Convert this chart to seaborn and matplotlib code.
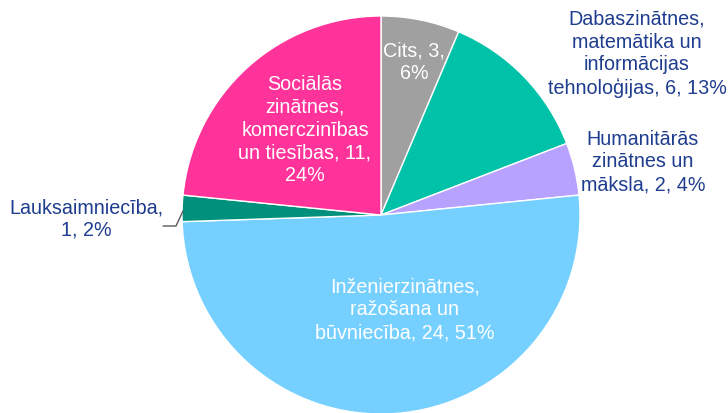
import matplotlib
matplotlib.use("Agg")
import matplotlib.pyplot as plt
import seaborn as sns

categories = [
    "Cits",
    "Dabaszinātnes,\nmatemātika un\ninformācijas\ntehnoloģijas",
    "Humanitārās\nzinātnes un\nmāksla",
    "Inženierzinātnes,\nražošana un\nbūvniecība",
    "Lauksaimniecība",
    "Sociālās\nzinātnes,\nkomerczinības\nun tiesības",
]
values = [3, 6, 2, 24, 1, 11]
percents = [6, 13, 4, 51, 2, 24]
label_texts = [
    "Cits, 3,\n6%",
    "Dabaszinātnes,\nmatemātika un\ninformācijas\ntehnoloģijas, 6, 13%",
    "Humanitārās\nzinātnes un\nmāksla, 2, 4%",
    "Inženierzinātnes,\nražošana un\nbūvniecība, 24, 51%",
    "Lauksaimniecība,\n1, 2%",
    "Sociālās\nzinātnes,\nkomerczinības\nun tiesības, 11,\n24%",
]
colors = ["#A0A0A0", "#00C2A8", "#B8A2FF", "#75D0FF", "#00917C", "#FF3399"]
inside = [True, False, False, True, False, True]
# label centre positions in pixel space of the 728x414 image
label_px = [(414, 62), (637, 54), (643, 162), (405, 310), (86, 219), (305, 130)]

sns.set_theme(style="white")
plt.rcParams["font.family"] = ["Liberation Sans", "DejaVu Sans"]

W, H = 728, 414
cx, cy, R = 381, 216, 199
fig = plt.figure(figsize=(W / 100, H / 100), dpi=100)
fig.patch.set_facecolor("white")
ax = fig.add_axes([(cx - R) / W, (H - cy - R) / H, 2 * R / W, 2 * R / H])
ax.pie(values, colors=colors, startangle=90, counterclock=False, radius=1,
       wedgeprops=dict(edgecolor="white", linewidth=1.0))
ax.set_xlim(-1, 1)
ax.set_ylim(-1, 1)
ax.set_axis_off()

def to_data(px, py):
    return (px - cx) / R, (cy - py) / R

for txt, ins, (px, py) in zip(label_texts, inside, label_px):
    x, y = to_data(px, py)
    ax.text(x, y, txt, ha="center", va="center", fontsize=14.2,
            color="white" if ins else "#1F3D8F", linespacing=1.24,
            clip_on=False)

# leader line for the small slice
lx = [to_data(163, 227), to_data(176, 227), to_data(183, 212)]
ax.plot([p[0] for p in lx], [p[1] for p in lx], color="#595959", lw=1, clip_on=False)

fig.savefig("out.png", dpi=100)
